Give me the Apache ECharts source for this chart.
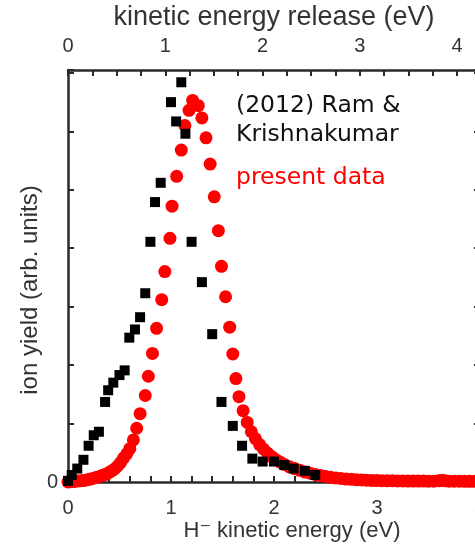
<!DOCTYPE html>
<html>
<head>
<meta charset="utf-8">
<script src="https://cdn.jsdelivr.net/npm/echarts@6/dist/echarts.min.js"></script>
<style>
  html, body { margin: 0; padding: 0; background: #fff; }
  #main { width: 475px; height: 548px; }
</style>
</head>
<body>
<div id="main"></div>
<script>
// H- kinetic energy (eV) / ion yield (arb. units)
var ramX = [0.00, 0.036, 0.09, 0.15, 0.20, 0.25, 0.30, 0.36, 0.39, 0.44, 0.50, 0.55,
    0.595, 0.65, 0.70, 0.75, 0.80, 0.845, 0.90, 1.00, 1.05, 1.10, 1.14, 1.20,
    1.30, 1.40, 1.49, 1.60, 1.69, 1.79, 1.89, 2.00, 2.10, 2.19, 2.30, 2.40];
var ramY = [0.02, 0.12, 0.23, 0.38, 0.62, 0.80, 0.86, 1.37, 1.57, 1.70, 1.83, 1.91,
    2.47, 2.61, 2.82, 3.23, 4.11, 4.79, 5.12, 6.50, 6.17, 6.84, 5.96, 4.11,
    3.42, 2.53, 1.37, 0.96, 0.62, 0.40, 0.35, 0.35, 0.29, 0.23, 0.19, 0.12];

var presX = [0.00, 0.03, 0.06, 0.09, 0.12, 0.15, 0.18, 0.21, 0.24, 0.27, 0.30, 0.33,
    0.36, 0.39, 0.42, 0.45, 0.48, 0.51, 0.54, 0.57, 0.60, 0.635, 0.667, 0.70,
    0.75, 0.78, 0.82, 0.86, 0.91, 0.94, 0.99, 1.01, 1.055, 1.10, 1.135, 1.175,
    1.21, 1.265, 1.30, 1.34, 1.38, 1.42, 1.46, 1.49, 1.53, 1.57, 1.60, 1.63,
    1.66, 1.70, 1.74, 1.78, 1.82, 1.86, 1.90, 1.94, 1.98, 2.02, 2.06, 2.10,
    2.15, 2.20, 2.25, 2.30, 2.35, 2.40, 2.45, 2.50, 2.55, 2.60, 2.65, 2.70,
    2.75, 2.80, 2.85, 2.90, 2.95, 3.00, 3.05, 3.10, 3.15, 3.20, 3.25, 3.30,
    3.35, 3.40, 3.45, 3.50, 3.55, 3.60, 3.63, 3.66, 3.70, 3.75, 3.80, 3.85,
    3.90, 3.95, 4.00];
var presY = [0.00, 0.005, 0.01, 0.015, 0.02, 0.025, 0.035, 0.045, 0.06, 0.075, 0.09, 0.11,
    0.13, 0.155, 0.185, 0.22, 0.27, 0.33, 0.41, 0.48, 0.57, 0.72, 0.92, 1.17,
    1.48, 1.81, 2.20, 2.63, 3.12, 3.60, 4.17, 4.72, 5.23, 5.68, 6.10, 6.36,
    6.53, 6.44, 6.23, 5.89, 5.44, 4.88, 4.30, 3.69, 3.17, 2.65, 2.19, 1.77,
    1.46, 1.22, 1.02, 0.86, 0.74, 0.64, 0.56, 0.49, 0.43, 0.38, 0.34, 0.30,
    0.26, 0.23, 0.20, 0.17, 0.15, 0.13, 0.11, 0.095, 0.08, 0.07, 0.06, 0.05,
    0.045, 0.04, 0.035, 0.03, 0.027, 0.024, 0.022, 0.02, 0.02, 0.018, 0.018, 0.016,
    0.016, 0.015, 0.015, 0.014, 0.014, 0.02, 0.03, 0.02, 0.014, 0.013, 0.013, 0.012,
    0.012, 0.012, 0.012];

var xTicks = [0, 1, 2, 3, 4];
var kerScale = 18 / 17;   // top axis: kinetic energy release

function pairs(xs, ys) {
    var out = [];
    for (var i = 0; i < xs.length; i++) out.push([xs[i], ys[i]]);
    return out;
}

var lineCol = '#2a2a2a';
var textCol = '#333';
var font = '"Liberation Sans", Arial, sans-serif';

var baseAxis = {
    axisLine: { show: true, onZero: false, lineStyle: { color: lineCol, width: 2.5 } },
    axisTick: { show: true, inside: true, length: 6, lineStyle: { color: lineCol, width: 2 } },
    minorTick: { show: true, length: 6, lineStyle: { color: lineCol, width: 2 } },
    splitLine: { show: false },
    axisLabel: { color: textCol, fontSize: 20, fontFamily: font }
};

var option = {
    animation: false,
    backgroundColor: '#fff',
    grid: { left: 68, top: 70, right: -5, bottom: 66, containLabel: false, outerBoundsMode: 'none' },
    xAxis: [
        Object.assign({}, baseAxis, {
            type: 'value', position: 'bottom', min: 0, max: xTicks[xTicks.length - 1], interval: 1,
            minorTick: Object.assign({}, baseAxis.minorTick, { splitNumber: 5 }),
            axisLabel: Object.assign({}, baseAxis.axisLabel, { margin: 16 })
        }),
        Object.assign({}, baseAxis, {
            type: 'value', position: 'top', min: 0, max: xTicks[xTicks.length - 1] * kerScale, interval: 1,
            minorTick: Object.assign({}, baseAxis.minorTick, { splitNumber: 4 }),
            axisLabel: Object.assign({}, baseAxis.axisLabel, { margin: 14, showMaxLabel: false }),
            name: 'kinetic energy release (eV)', nameLocation: 'middle', nameGap: 37,
            nameTextStyle: { color: textCol, fontSize: 27, fontFamily: font }
        })
    ],
    yAxis: [
        Object.assign({}, baseAxis, {
            type: 'value', position: 'left', min: 0, max: 7.05, interval: 1,
            minorTick: { show: false },
            axisLabel: Object.assign({}, baseAxis.axisLabel, {
                margin: 10, formatter: function (v) { return v === 0 ? '0' : ''; }
            })
        }),
        Object.assign({}, baseAxis, {
            type: 'value', position: 'right', min: 0, max: 7.05, interval: 1,
            minorTick: { show: false }, axisLabel: { show: false }
        })
    ],
    graphic: [
        { type: 'text', left: 236, top: 94, style: { text: '(2012) Ram &', fill: '#111', font: '23.5px "DejaVu Sans"' } },
        { type: 'text', left: 236, top: 123, style: { text: 'Krishnakumar', fill: '#111', font: '23.5px "DejaVu Sans"' } },
        { type: 'text', left: 236, top: 166, style: { text: 'present data', fill: '#ff0000', font: '23.5px "DejaVu Sans"' } },
        {
            type: 'text', x: 30, y: 290, rotation: Math.PI / 2,
            style: { text: 'ion yield (arb. units)', fill: textCol, font: '24px "Liberation Sans"', align: 'center', verticalAlign: 'middle' }
        },
        {
            type: 'text', x: 292, y: 531,
            style: { text: 'H\u207B kinetic energy (eV)', fill: textCol, font: '22px "Liberation Sans", "DejaVu Sans"', align: 'center', verticalAlign: 'middle' }
        }
    ],
    series: [
        {
            name: 'present data', type: 'scatter', xAxisIndex: 0, yAxisIndex: 0,
            symbol: 'circle', symbolSize: 13,
            itemStyle: { color: '#ff0000', opacity: 1 },
            data: pairs(presX, presY), z: 2
        },
        {
            name: '(2012) Ram & Krishnakumar', type: 'scatter', xAxisIndex: 0, yAxisIndex: 0,
            symbol: 'rect', symbolSize: 10,
            itemStyle: { color: '#000', opacity: 1 },
            data: pairs(ramX, ramY), z: 3
        }
    ]
};

var chart = echarts.init(document.getElementById('main'));
chart.setOption(option);
</script>
</body>
</html>
